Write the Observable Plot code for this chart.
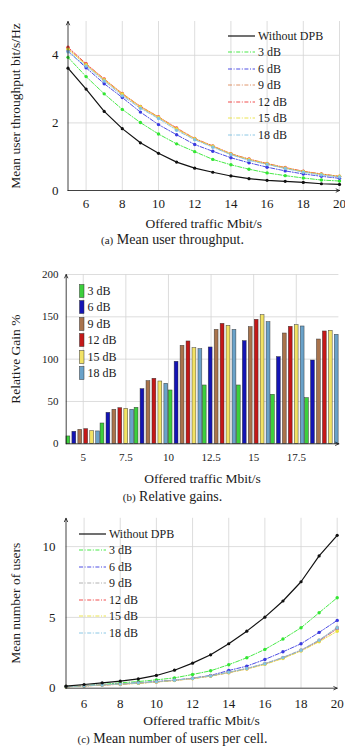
<!DOCTYPE html>
<html>
<head>
<meta charset="utf-8">
<script src="https://cdn.jsdelivr.net/npm/d3@7"></script>
<script src="https://cdn.jsdelivr.net/npm/@observablehq/plot@0.6"></script>
<style>
  body { margin: 0; background: #fff; }
  #fig { position: relative; width: 345px; height: 747px; overflow: hidden;
         font-family: "Liberation Serif", "Times New Roman", serif; color: #1a1a1a; }
  .panel { position: absolute; left: 0; }
  .cap { position: absolute; left: 0; width: 345px; text-align: center; font-size: 14px; line-height: 16px; }
  .cap small { font-size: 11px; }
  .legend { position: absolute; font-size: 12px; }
  .legend .row { position: absolute; left: 0; height: 14px; line-height: 14px; display: flex; align-items: center; white-space: nowrap; }
  .legend svg { display: block; }
</style>
</head>
<body>
<div id="fig"></div>
<script>
// ---- data ----------------------------------------------------------------
const traffic = [5, 6, 7, 8, 9, 10, 11, 12, 13, 14, 15, 16, 17, 18, 19, 20];
const scenarios = ["Without DPB", "3 dB", "6 dB", "9 dB", "12 dB", "15 dB", "18 dB"];
const gainScenarios = ["3 dB", "6 dB", "9 dB", "12 dB", "15 dB", "18 dB"];

// mean user throughput, bit/s/Hz
const thrNoDPB = [3.62, 3.0, 2.34, 1.83, 1.41, 1.1, 0.84, 0.66, 0.54, 0.43, 0.35, 0.3, 0.27, 0.24, 0.2, 0.18];
const thr3dB   = [3.94, 3.37, 2.86, 2.4, 2.01, 1.67, 1.38, 1.15, 0.92, 0.76, 0.63, 0.52, 0.44, 0.37, 0.31, 0.28];
const thr6dB   = [4.13, 3.63, 3.16, 2.75, 2.32, 1.95, 1.65, 1.36, 1.16, 0.97, 0.82, 0.69, 0.58, 0.49, 0.42, 0.36];
const thr9dB   = [4.2, 3.72, 3.27, 2.84, 2.46, 2.16, 1.82, 1.52, 1.3, 1.07, 0.91, 0.78, 0.66, 0.56, 0.48, 0.41];
const thr12dB  = [4.24, 3.75, 3.3, 2.87, 2.49, 2.18, 1.85, 1.54, 1.32, 1.09, 0.93, 0.8, 0.68, 0.57, 0.49, 0.42];
const thr15dB  = [4.18, 3.72, 3.28, 2.86, 2.48, 2.17, 1.83, 1.53, 1.31, 1.08, 0.92, 0.79, 0.67, 0.56, 0.48, 0.42];
const thr18dB  = [4.1, 3.68, 3.24, 2.8, 2.43, 2.13, 1.78, 1.5, 1.28, 1.06, 0.89, 0.77, 0.65, 0.54, 0.46, 0.4];

// relative gain over "Without DPB", %, at every other traffic level
const gainTraffic = [5, 7, 9, 11, 13, 15, 17, 19];
const gain3dB  = [8.7, 24, 42.5, 63, 68.9, 68.9, 57.9, 54];
const gain6dB  = [14.2, 36.6, 64.6, 96.9, 113.8, 121.3, 102.4, 98.4];
const gain9dB  = [16.5, 40.2, 74, 115.7, 134.6, 137.8, 130.3, 123.2];
const gain12dB = [17.3, 42.1, 76.8, 120.9, 141.7, 146.5, 138.2, 132.7];
const gain15dB = [15, 41.3, 73.6, 113, 139.4, 152, 140.2, 133.5];
const gain18dB = [14.6, 40.2, 70.9, 111.8, 134.6, 143.7, 138.6, 128.7];

// mean number of users per cell
const usrNoDPB = [0.14, 0.26, 0.38, 0.5, 0.66, 0.9, 1.27, 1.77, 2.36, 3.14, 4.03, 5.02, 6.16, 7.52, 9.34, 10.8];
const usr3dB   = [0.12, 0.19, 0.26, 0.38, 0.47, 0.59, 0.73, 0.97, 1.23, 1.66, 2.15, 2.74, 3.47, 4.27, 5.33, 6.39];
const usr6dB   = [0.1, 0.17, 0.24, 0.3, 0.38, 0.47, 0.57, 0.71, 0.9, 1.25, 1.56, 2.03, 2.57, 3.14, 3.94, 4.79];
const usr9dB   = [0.1, 0.16, 0.23, 0.29, 0.36, 0.45, 0.56, 0.7, 0.88, 1.13, 1.4, 1.74, 2.18, 2.7, 3.4, 4.3];
const usr12dB  = [0.1, 0.16, 0.22, 0.28, 0.35, 0.44, 0.55, 0.68, 0.86, 1.1, 1.37, 1.71, 2.14, 2.66, 3.34, 4.2];
const usr15dB  = [0.09, 0.15, 0.22, 0.28, 0.34, 0.43, 0.54, 0.67, 0.85, 1.09, 1.35, 1.68, 2.1, 2.62, 3.28, 4.02];
const usr18dB  = [0.1, 0.16, 0.23, 0.29, 0.36, 0.45, 0.56, 0.69, 0.87, 1.12, 1.39, 1.73, 2.16, 2.68, 3.38, 4.25];

// ---- styling --------------------------------------------------------------
const FONT = '"Liberation Serif", "Times New Roman", serif';
const GRID = "#d4d4d4";
const DASHDOT = "4 1.6 1 1.6";
const lineColorsA = ["#111111", "#33e633", "#3a3ae0", "#dc8a5c", "#ef3a3a", "#e9e13c", "#80c2e2"];
const lineColorsC = ["#111111", "#33e633", "#3a3ae0", "#a9a9a9", "#ef3a3a", "#e9e13c", "#80c2e2"];
const barColors = ["#3ccf3c", "#1414b4", "#a9734c", "#c41818", "#f2e264", "#6aa2c9"];
const plain = d => String(d);

const fig = document.getElementById("fig");

function place(el, top) {
  el.classList.add("panel");
  el.style.top = top + "px";
  fig.appendChild(el);
}

function axisArrows(xd, yd) {
  return Plot.arrow(
    [{x1: xd[0], y1: yd[0], x2: xd[0], y2: yd[1]}, {x1: xd[0], y1: yd[0], x2: xd[1], y2: yd[0]}],
    {x1: "x1", y1: "y1", x2: "x2", y2: "y2", stroke: "#111", strokeWidth: 0.8, headLength: 7, headAngle: 50}
  );
}

function axisTitles(xLabel, xDy, yLabel, yDx) {
  return [
    Plot.text([xLabel], {frameAnchor: "bottom", dy: xDy, textAnchor: "middle", lineAnchor: "middle", fontSize: 13.5}),
    Plot.text([yLabel], {frameAnchor: "left", dx: yDx, rotate: -90, textAnchor: "middle", lineAnchor: "middle", fontSize: 13.5})
  ];
}

function longRows(series, names) {
  const rows = [];
  series.forEach((vals, i) => vals.forEach((v, j) => rows.push({series: names[i], x: traffic[j], y: v})));
  return rows;
}

// line chart shared by the throughput and user-count panels
function linePanel(o) {
  const rows = longRows(o.series, scenarios);
  const xTicks = [6, 8, 10, 12, 14, 16, 18, 20];
  const base = rows.filter(d => d.series === "Without DPB");
  const dpb = rows.filter(d => d.series !== "Without DPB");
  return Plot.plot({
    width: 345, height: o.height,
    marginTop: o.mt, marginBottom: o.mb, marginLeft: o.ml, marginRight: o.mr,
    style: {fontFamily: FONT, fontSize: "13px", color: "#1a1a1a", background: "transparent", overflow: "visible"},
    x: {domain: o.xDomain},
    y: {domain: o.yDomain},
    color: {domain: scenarios, range: o.colors},
    marks: [
      Plot.ruleX(xTicks, {stroke: GRID, strokeWidth: 0.8}),
      Plot.ruleY(o.yTicks.filter(t => t > 0), {stroke: GRID, strokeWidth: 0.8}),
      Plot.axisX({ticks: xTicks, tickFormat: plain, tickSize: 0, tickPadding: o.xPad, label: null, fontSize: 13}),
      Plot.axisY({ticks: o.yTicks, tickFormat: plain, tickSize: 0, tickPadding: o.yPad, label: null, fontSize: 13}),
      Plot.line(dpb, {x: "x", y: "y", z: "series", stroke: "series", strokeWidth: 0.9, strokeDasharray: DASHDOT}),
      Plot.dot(dpb, {x: "x", y: "y", fill: "series", r: 1.7}),
      Plot.line(base, {x: "x", y: "y", stroke: "series", strokeWidth: 1.2}),
      Plot.dot(base, {x: "x", y: "y", fill: "series", r: 1.6}),
      axisArrows(o.xDomain, o.yDomain),
      ...axisTitles(o.xLabel, o.xLabelDy, o.yLabel, o.yLabelDx)
    ]
  });
}

function lineLegend(left, top, colors) {
  const box = document.createElement("div");
  box.className = "legend";
  box.style.left = left + "px";
  box.style.top = top + "px";
  scenarios.forEach((name, i) => {
    const row = document.createElement("div");
    row.className = "row";
    row.style.top = (i * 16.45) + "px";
    const dash = i === 0 ? "" : `stroke-dasharray="${DASHDOT}"`;
    const w = i === 0 ? 1.2 : 0.9;
    row.innerHTML = `<svg width="28" height="14"><line x1="0" x2="27" y1="7" y2="7" stroke="${colors[i]}" stroke-width="${w}" ${dash}/></svg><span style="margin-left:2px">${name}</span>`;
    box.appendChild(row);
  });
  fig.appendChild(box);
}

function caption(top, tag, text) {
  const c = document.createElement("div");
  c.className = "cap";
  c.style.top = top + "px";
  c.innerHTML = `<small>(${tag})</small> ${text}`;
  fig.appendChild(c);
}

// ---- (a) mean user throughput ---------------------------------------------
place(linePanel({
  series: [thrNoDPB, thr3dB, thr6dB, thr9dB, thr12dB, thr15dB, thr18dB],
  colors: lineColorsA,
  height: 232, mt: 21, mb: 42, ml: 67.5, mr: 6,
  xDomain: [5, 20], yDomain: [0, 5], yTicks: [0, 2, 4],
  xPad: 8.5, yPad: 9.5,
  xLabel: "Offered traffic Mbit/s", xLabelDy: 33,
  yLabel: "Mean user throughput bit/s/Hz", yLabelDx: -52
}), 0);
lineLegend(228, 29, lineColorsA);
caption(232, "a", "Mean user throughput.");

// ---- (b) relative gains -----------------------------------------------------
const gainRows = [];
[gain3dB, gain6dB, gain9dB, gain12dB, gain15dB, gain18dB].forEach((vals, i) =>
  vals.forEach((v, j) => gainRows.push({series: gainScenarios[i], idx: i, traffic: gainTraffic[j], gain: v})));
const STEP = 0.349;   // spacing between neighbouring bars, in Mbit/s
const BARW = 0.225;   // bar width, in Mbit/s
const gX = [4, 20], gY = [0, 200];
place(Plot.plot({
  width: 345, height: 237,
  marginTop: 24, marginBottom: 43.7, marginLeft: 65.7, marginRight: 6.6,
  style: {fontFamily: FONT, fontSize: "11px", color: "#1a1a1a", background: "transparent", overflow: "visible"},
  x: {domain: gX},
  y: {domain: gY},
  color: {domain: gainScenarios, range: barColors},
  marks: [
    Plot.ruleX([5, 7.5, 10, 12.5, 15, 17.5], {stroke: GRID, strokeWidth: 0.8}),
    Plot.ruleY([50, 100, 150, 200], {stroke: GRID, strokeWidth: 0.8}),
    Plot.axisX({ticks: [5, 7.5, 10, 12.5, 15, 17.5], tickFormat: plain, tickSize: 0, tickPadding: 9.4, label: null, fontSize: 11}),
    Plot.axisY({ticks: [0, 50, 100, 150, 200], tickFormat: plain, tickSize: 0, tickPadding: 7.7, label: null, fontSize: 11}),
    Plot.rect(gainRows, {
      x1: d => d.traffic + (d.idx - 2.5) * STEP - BARW / 2,
      x2: d => d.traffic + (d.idx - 2.5) * STEP + BARW / 2,
      y1: () => 0, y2: "gain",
      fill: "series", stroke: "#2a2a2a", strokeWidth: 0.55, strokeOpacity: 0.8
    }),
    axisArrows(gX, gY),
    ...axisTitles("Offered traffic Mbit/s", 34.4, "Relative Gain %", -50.7)
  ]
}), 250);
{
  const box = document.createElement("div");
  box.className = "legend";
  box.style.left = "79px";
  box.style.top = "283.7px";
  gainScenarios.forEach((name, i) => {
    const row = document.createElement("div");
    row.className = "row";
    row.style.top = (i * 16.5) + "px";
    row.innerHTML = `<svg width="6" height="14"><rect x="0.5" y="0.5" width="4.5" height="13" fill="${barColors[i]}" stroke="#2a2a2a" stroke-opacity="0.8" stroke-width="0.6"/></svg><span style="margin-left:2.5px">${name}</span>`;
    box.appendChild(row);
  });
  fig.appendChild(box);
}
caption(489, "b", "Relative gains.");

// ---- (c) mean number of users per cell ------------------------------------
place(linePanel({
  series: [usrNoDPB, usr3dB, usr6dB, usr9dB, usr12dB, usr15dB, usr18dB],
  colors: lineColorsC,
  height: 230, mt: 12.8, mb: 47.3, ml: 65.5, mr: 8.3,
  xDomain: [5, 20], yDomain: [0, 12], yTicks: [0, 5, 10],
  xPad: 10.8, yPad: 10.5,
  xLabel: "Offered traffic Mbit/s", xLabelDy: 32.3,
  yLabel: "Mean number of users", yLabelDx: -50.5
}), 505);
lineLegend(79, 527, lineColorsC);
caption(731, "c", "Mean number of users per cell.");
</script>
</body>
</html>
